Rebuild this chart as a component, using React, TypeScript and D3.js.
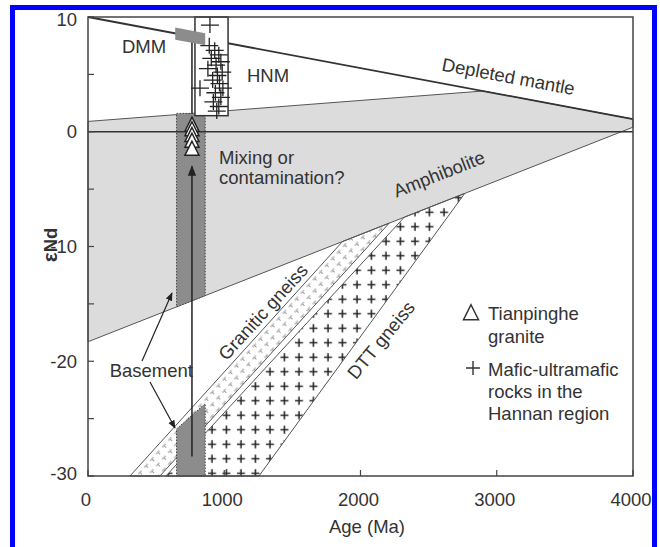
import React from "react";
import * as d3 from "d3";

const W = 660, H = 547;
const xTicks = [0, 1000, 2000, 3000, 4000];
const yTicks = [10, 0, -10, -20, -30];
const yMinor = [5, -5, -15, -25];

// Depleted mantle line [age, eNd]
const depletedMantle: [number, number][] = [[0, 10], [4000, 1.1]];
// CHUR line
const chur: [number, number][] = [[0, 0], [4000, 0]];
// Amphibolite evolution line
const amphibolite: [number, number][] = [[0, -18.3], [4000, 0.4]];
// mixing field polygon
const mixingField: [number, number][] = [[0, 0.9], [2900, 3.55], [4000, 1.1], [4000, 0.4], [0, -18.3]];
// basement column ages
const columnAges = [650, 860];
const columnTop = 1.6;
const lowerColumnTop = [-25.9, -23.7];
// band edges: two points each [age, eNd]
const graniticEdge1: [number, number][] = [[308, -30], [947, -21.63]];
const graniticEdge2: [number, number][] = [[528, -30], [1167, -21.63]];
const dttEdge1: [number, number][] = [[572, -30], [1174, -22.24]];
const dttEdge2: [number, number][] = [[1255, -30], [2767, -5.34]];
// DMM box
const dmmAges = [640, 860];
// HNM box
const hnmBox = { age0: 785, age1: 1028, e0: 1.4, e1: 10 };
// mafic-ultramafic rocks
const maficPts: [number, number][] = [
  [895, 9.3], [890, 7.5], [930, 7.1], [960, 6.7], [905, 6.4], [975, 6.1], [940, 5.8], [880, 5.5],
  [985, 5.2], [950, 4.9], [915, 4.5], [965, 4.2], [990, 3.8], [935, 3.4], [975, 3.0], [920, 2.6],
  [960, 2.2], [945, 1.8], [822, 3.8],
];
// Tianpinghe granite
const granitePts: [number, number][] = [[763, 0.6], [763, 0.2], [763, -0.3], [763, -0.8], [763, -1.5]];
const arrowAge = 763;
const arrowRange = [-28.3, -3];
const dmmLineRange = [1.6, 7.9];

const x = d3.scaleLinear().domain([0, 4000]).range([88, 633]);
const y = d3.scaleLinear().domain([-30, 10]).range([476, 17]);

const interp = (ln: [number, number][], a: number) => {
  const [[a0, e0], [a1, e1]] = ln;
  return e0 + (e1 - e0) * (a - a0) / (a1 - a0);
};
// intersection of an edge with the amphibolite line
const meetAmph = (ln: [number, number][]): [number, number] => {
  const s1 = (ln[1][1] - ln[0][1]) / (ln[1][0] - ln[0][0]);
  const s2 = (amphibolite[1][1] - amphibolite[0][1]) / (amphibolite[1][0] - amphibolite[0][0]);
  const c1 = ln[0][1] - s1 * ln[0][0];
  const c2 = amphibolite[0][1] - s2 * amphibolite[0][0];
  const a = (c2 - c1) / (s1 - s2);
  return [a, c1 + s1 * a];
};
const font = "'Liberation Sans', Arial, Helvetica, sans-serif";
const FS = 18.5;
const line = d3.line<[number, number]>().x(d => x(d[0])).y(d => y(d[1]));

export default function App() {
  const bandPoly = (e1: [number, number][], e2: [number, number][]): [number, number][] => [
    [e1[0][0], -30], meetAmph(e1), meetAmph(e2), [e2[0][0], -30],
  ];
  const upperCol: [number, number][] = [
    [columnAges[0], columnTop], [columnAges[1], columnTop],
    [columnAges[1], interp(amphibolite, columnAges[1])], [columnAges[0], interp(amphibolite, columnAges[0])],
  ];
  const lowerCol: [number, number][] = [
    [columnAges[0], lowerColumnTop[0]],
    [columnAges[1], lowerColumnTop[1]],
    [columnAges[1], -30], [columnAges[0], -30],
  ];
  const dmmPoly: [number, number][] = [
    [dmmAges[0], interp(depletedMantle, dmmAges[0]) + 0.5], [dmmAges[1], interp(depletedMantle, dmmAges[1]) + 0.5],
    [dmmAges[1], interp(depletedMantle, dmmAges[1]) - 0.55], [dmmAges[0], interp(depletedMantle, dmmAges[0]) - 0.55],
  ];
  const dmAngle = Math.atan2(y(depletedMantle[1][1]) - y(depletedMantle[0][1]), x(4000) - x(0)) * 180 / Math.PI;
  const amAngle = Math.atan2(y(amphibolite[1][1]) - y(amphibolite[0][1]), x(4000) - x(0)) * 180 / Math.PI;
  const tri = (cx: number, cy: number, s: number) => `M${cx},${cy - s * 0.55}L${cx + s * 0.5},${cy + s * 0.45}L${cx - s * 0.5},${cy + s * 0.45}Z`;
  const cross = (cx: number, cy: number, sx: number, sy: number) => `M${cx - sx},${cy}H${cx + sx}M${cx},${cy - sy}V${cy + sy}`;
  const txt = { fontSize: FS, fill: "#333" };

  return (
    <svg width={W} height={H} style={{ display: "block", position: "absolute", left: 0, top: 0 }} fontFamily={font}>
      <defs>
        <pattern id="plus" width="14.5" height="14.5" patternUnits="userSpaceOnUse" x="3" y="2">
          <path d="M2,7.25H10M6,3.25V11.25" stroke="#222" strokeWidth="1.5" />
        </pattern>
        <pattern id="gran" width="9" height="8" patternUnits="userSpaceOnUse" patternTransform="rotate(-48)">
          <path d="M1,4H6M3.5,4V7" stroke="#999" strokeWidth="1" fill="none" />
        </pattern>
        <marker id="ah" viewBox="0 0 10 10" refX="9" refY="5" markerWidth="7" markerHeight="7" orient="auto">
          <path d="M0,1L10,5L0,9Z" fill="#222" />
        </marker>
      </defs>
      <rect x={0} y={0} width={W} height={H} fill="#fff" />
      {/* mixing field */}
      <path d={line(mixingField) + "Z"} fill="#dcdcdc" stroke="#555" strokeWidth={1} />
      {/* bands */}
      <path d={line(bandPoly(graniticEdge1, graniticEdge2)) + "Z"} fill="url(#gran)" stroke="#555" strokeWidth={1} />
      <path d={line(bandPoly(dttEdge1, dttEdge2)) + "Z"} fill="url(#plus)" stroke="#555" strokeWidth={1} />
      {/* basement column */}
      <path d={line(upperCol) + "Z"} fill="#8c8c8c" stroke="#444" strokeWidth={1} strokeDasharray="1.5,1.5" />
      <path d={line(lowerCol) + "Z"} fill="#8c8c8c" stroke="#444" strokeWidth={1} strokeDasharray="1.5,1.5" />
      {/* lines */}
      <path d={line(chur)!} stroke="#333" strokeWidth={1.5} fill="none" />
      <path d={line(depletedMantle)!} stroke="#333" strokeWidth={1.8} fill="none" />
      <line x1={x(arrowAge)} x2={x(arrowAge)} y1={y(dmmLineRange[0])} y2={y(dmmLineRange[1])} stroke="#222" strokeWidth={1.5} />
      {/* HNM box */}
      <rect x={x(hnmBox.age0)} y={y(hnmBox.e1)} width={x(hnmBox.age1) - x(hnmBox.age0)} height={y(hnmBox.e0) - y(hnmBox.e1)} fill="#fff" stroke="#333" strokeWidth={1.5} />
      {maficPts.map((p, i) => (
        <path key={i} d={cross(x(p[0]), y(p[1]), 9, 8)} stroke="#222" strokeWidth={1.3} />
      ))}
      {/* DMM */}
      <path d={line(dmmPoly) + "Z"} fill="#8c8c8c" />
      {/* granite triangles */}
      {granitePts.map((p, i) => (
        <path key={i} d={tri(x(p[0]), y(p[1]), 14)} fill="#fff" stroke="#222" strokeWidth={1.5} />
      ))}
      {/* arrow */}
      <line x1={x(arrowAge)} x2={x(arrowAge)} y1={y(arrowRange[0])} y2={y(arrowRange[1])} stroke="#222" strokeWidth={1.5} markerEnd="url(#ah)" />
      {/* basement arrows */}
      <line x1={142} y1={361} x2={172} y2={293} stroke="#222" strokeWidth={1.2} markerEnd="url(#ah)" />
      <line x1={150} y1={382} x2={175} y2={428} stroke="#222" strokeWidth={1.2} markerEnd="url(#ah)" />
      {/* frame */}
      <rect x={x(0)} y={y(10)} width={x(4000) - x(0)} height={y(-30) - y(10)} fill="none" stroke="#444" strokeWidth={1.5} />
      {xTicks.map(t => (
        <g key={t}>
          <line x1={x(t)} x2={x(t)} y1={y(-30)} y2={y(-30) - 6} stroke="#444" strokeWidth={1.2} />
          <text x={x(t) - 2} y={506} {...txt} textAnchor="middle">{t}</text>
        </g>
      ))}
      {[...yTicks, ...yMinor].map(t => (
        <line key={t} x1={x(0)} x2={x(0) + 6} y1={y(t)} y2={y(t)} stroke="#444" strokeWidth={1.2} />
      ))}
      {yTicks.map(t => (
        <text key={t} x={77} y={y(t) + (t === 10 ? 9 : t === -30 ? 4 : 6.5)} {...txt} textAnchor="end">{t}</text>
      ))}
      {/* labels */}
      <text x={367} y={533} {...txt} textAnchor="middle">Age (Ma)</text>
      <text transform={`translate(57,245) rotate(-90)`} {...txt} textAnchor="middle" fontWeight="bold">
        <tspan fontSize={21}>ε</tspan>Nd
      </text>
      <text x={122} y={53} {...txt}>DMM</text>
      <text x={247} y={82} {...txt}>HNM</text>
      <text transform={`translate(${x(3060)},${y(interp(depletedMantle, 3060))}) rotate(${dmAngle})`} dy={-12.5} {...txt} textAnchor="middle">Depleted mantle</text>
      <text x={219} y={164} {...txt}>Mixing or</text>
      <text x={219} y={184} {...txt}>contamination?</text>
      <text transform={`translate(${x(2650)},${y(interp(amphibolite, 2650))}) rotate(${amAngle})`} dy={-21} {...txt} textAnchor="middle">Amphibolite</text>
      <text transform={`translate(263,312) rotate(-47.5)`} dy="0.35em" {...txt} textAnchor="middle">Granitic gneiss</text>
      <text transform={`translate(381,340) rotate(-50.5)`} dy="0.35em" {...txt} textAnchor="middle">DTT gneiss</text>
      <text x={193} y={377} {...txt} textAnchor="end">Basement</text>
      {/* legend */}
      <path d={tri(471, 313, 15)} fill="#fff" stroke="#333" strokeWidth={1.5} />
      <text x={488} y={320} {...txt}>Tianpinghe</text>
      <text x={488} y={343} {...txt}>granite</text>
      <path d={cross(473, 368, 7, 7)} stroke="#333" strokeWidth={1.4} />
      <text x={488} y={376} {...txt}>Mafic-ultramafic</text>
      <text x={488} y={398} {...txt}>rocks in the</text>
      <text x={488} y={420} {...txt}>Hannan region</text>
      {/* blue border */}
      <rect x={12.5} y={7.5} width={642} height={560} fill="none" stroke="#0000ff" strokeWidth={5} />
    </svg>
  );
}
